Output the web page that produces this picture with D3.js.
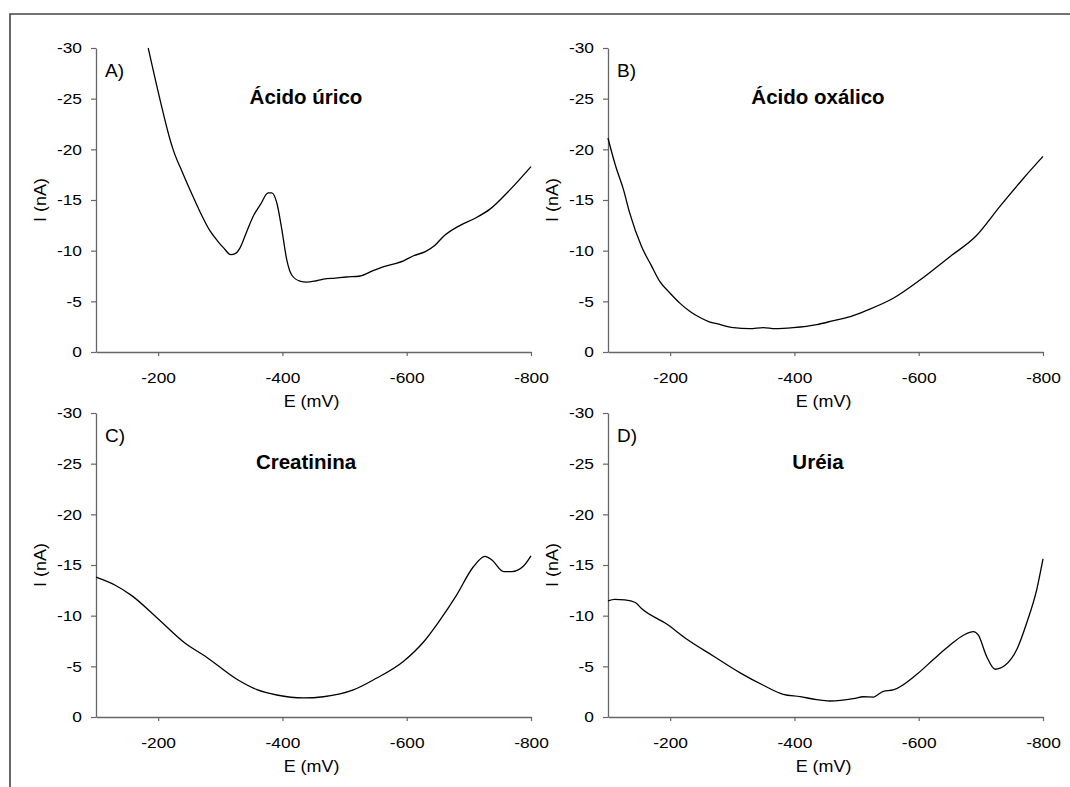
<!DOCTYPE html>
<html><head><meta charset="utf-8">
<script src="https://cdn.jsdelivr.net/npm/d3@7"></script>
<style>
html,body{margin:0;padding:0;background:#fff;}
svg{display:block;font-family:"Liberation Sans",Arial,sans-serif;}
</style></head>
<body>
<svg id="chart" width="1070" height="787"></svg>
<script>
// ---- data (E in mV, I in nA) ----
const panelLetters = ["A)", "B)", "C)", "D)"];
const panelTitles = ["Ácido úrico", "Ácido oxálico", "Creatinina", "Uréia"];
const xTicks = [-200, -400, -600, -800];
const yTicks = [0, -5, -10, -15, -20, -25, -30];
const xLabel = "E (mV)";
const yLabel = "I (nA)";

const eA = [-184, -203, -219, -224, -240, -255, -270, -283, -295, -305, -317, -324, -332, -342, -353, -365, -377, -383, -391, -399, -407, -415, -428, -439, -452, -466, -485, -503, -525, -545, -562, -580, -595, -611, -630, -645, -659, -686, -710, -734, -766, -800];
const iA = [-30.0, -24.9, -21.0, -20.0, -17.6, -15.5, -13.5, -12.0, -11.0, -10.3, -9.6, -9.7, -10.3, -11.8, -13.4, -14.6, -15.7, -15.7, -14.7, -12.1, -9.1, -7.6, -7.0, -6.9, -7.0, -7.2, -7.3, -7.4, -7.5, -8.0, -8.4, -8.7, -9.0, -9.5, -9.9, -10.5, -11.4, -12.5, -13.2, -14.1, -16.0, -18.3];

const eB = [-100, -112, -125, -135, -154, -170, -183, -200, -216, -232, -248, -262, -275, -302, -328, -350, -369, -398, -436, -463, -490, -516, -559, -602, -650, -693, -731, -768, -800];
const iB = [-21.1, -18.4, -16.0, -13.7, -10.4, -8.5, -7.0, -5.8, -4.8, -4.0, -3.4, -3.0, -2.8, -2.4, -2.3, -2.4, -2.3, -2.4, -2.7, -3.1, -3.5, -4.1, -5.3, -7.1, -9.4, -11.5, -14.4, -17.1, -19.3];

const eC = [-100, -131, -157, -198, -243, -278, -326, -359, -391, -434, -466, -514, -546, -595, -627, -651, -680, -707, -726, -737, -756, -769, -788, -800];
const iC = [-13.8, -13.0, -12.0, -9.8, -7.3, -5.9, -3.75, -2.7, -2.17, -1.88, -2.0, -2.67, -3.65, -5.5, -7.4, -9.35, -12.0, -14.8, -15.86, -15.5, -14.35, -14.35, -14.9, -15.9];

const eD = [-100, -111, -127, -144, -154, -195, -227, -270, -312, -350, -382, -409, -436, -457, -495, -511, -527, -543, -559, -597, -624, -650, -672, -688, -696, -709, -723, -739, -758, -774, -790, -800];
const iD = [-11.45, -11.6, -11.55, -11.3, -10.7, -9.15, -7.67, -6.0, -4.38, -3.13, -2.24, -2.01, -1.71, -1.58, -1.81, -2.0, -1.97, -2.54, -2.67, -4.21, -5.7, -7.08, -8.07, -8.43, -8.07, -6.02, -4.71, -5.1, -6.68, -9.32, -12.6, -15.6];

const series = [[eA, iA], [eB, iB], [eC, iC], [eD, iD]];

// ---- layout ----
const svg = d3.select("#chart");
const W = 435, H = 304;
const origins = [[96, 48], [608, 48], [96, 413], [608, 413]];
const SX = 1.12;

svg.append("path")
  .attr("d", "M10,787V14H1070")
  .attr("fill", "none").attr("stroke", "#444").attr("stroke-width", 1.6);

series.forEach((s, k) => {
  const [ox, oy] = origins[k];
  const g = svg.append("g").attr("transform", `translate(${ox},${oy})`);
  const x = d3.scaleLinear().domain([-100, -800]).range([0, W]);
  const y = d3.scaleLinear().domain([0, -30]).range([H, 0]);

  const xa = g.append("g").attr("transform", `translate(0,${H})`)
    .call(d3.axisBottom(x).tickValues(xTicks).tickSize(4).tickPadding(16).tickSizeOuter(0).tickFormat(d => String(d)));
  const ya = g.append("g")
    .call(d3.axisLeft(y).tickValues(yTicks).tickSize(5).tickPadding(9).tickSizeOuter(0).tickFormat(d => String(d)));
  [xa, ya].forEach(a => {
    a.select(".domain").attr("stroke", "#666").attr("stroke-width", 1.3);
    a.selectAll(".tick line").attr("stroke", "#666").attr("stroke-width", 1.2);
    a.selectAll(".tick text").attr("fill", "#000").style("font-size", "15.5px")
      .style("font-family", "'Liberation Sans', Arial, sans-serif")
      .attr("transform", `scale(${SX},1)`);
  });
  ya.selectAll(".tick text").attr("x", -14 / SX);

  const line = d3.line().x((d, i) => x(s[0][i])).y(d => y(d)).curve(d3.curveMonotoneX);
  g.append("path").datum(s[1]).attr("d", line)
    .attr("fill", "none").attr("stroke", "#000").attr("stroke-width", 1.3);

  g.append("text").attr("transform", `translate(${W / 2 - 2},${H + 55}) scale(${SX},1)`)
    .attr("text-anchor", "middle").style("font-size", "16px").text(xLabel);
  g.append("text").attr("transform", `translate(-50,${H / 2}) rotate(-90) scale(${SX},1)`)
    .attr("text-anchor", "middle").style("font-size", "16px").text(yLabel);

  g.append("text").attr("x", 9).attr("y", 29).style("font-size", "19px").text(panelLetters[k]);
  g.append("text").attr("x", 210).attr("y", 56).attr("text-anchor", "middle")
    .style("font-size", "20.5px").style("font-weight", "bold").text(panelTitles[k]);
});
</script>
</body></html>
